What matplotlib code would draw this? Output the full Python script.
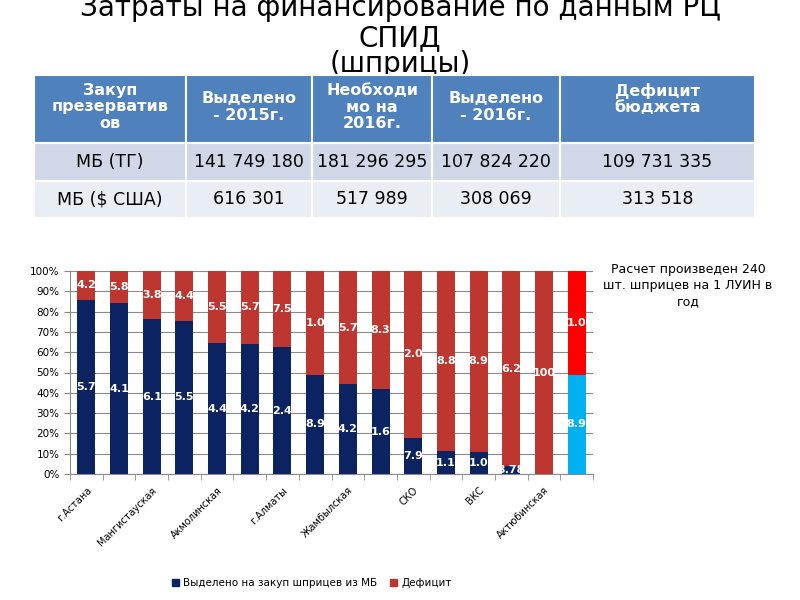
import numpy as np
import matplotlib
matplotlib.use('Agg')
from matplotlib import pyplot as plt
from matplotlib.patches import Rectangle
from matplotlib.ticker import FixedLocator, PercentFormatter

plt.rcParams['font.family'] = ['DejaVu Sans']

# данные таблицы
title_lines = ['Затраты на финансирование по данным РЦ', 'СПИД', '(шприцы)']
header = ['Закуп\nпрезерватив\nов', 'Выделено\n- 2015г.', 'Необходи\nмо на\n2016г.',
          'Выделено\n- 2016г.', 'Дефицит\nбюджета']
row_tg = ['МБ (ТГ)', '141 749 180', '181 296 295', '107 824 220', '109 731 335']
row_usd = ['МБ ($ США)', '616 301', '517 989', '308 069', '313 518']

# данные диаграммы
regions = ['г.Астана', '', 'Мангистауская', '', 'Акмолинская', '', 'г.Алматы', '',
           'Жамбылская', '', 'СКО', '', 'ВКС', '', 'Актюбинская', '']
allocated = [85.7, 84.1, 76.1, 75.5, 64.4, 64.2, 62.4, 48.9, 44.2, 41.6, 17.9, 11.1, 11.0, 3.78, 0, 48.9]
deficit = [14.2, 15.8, 23.8, 24.4, 35.5, 35.7, 37.5, 51.0, 55.7, 58.3, 82.0, 88.8, 88.9, 96.2, 100, 51.0]
# подписи так, как они видны на слайде
alloc_labels = ['5.7', '4.1', '6.1', '5.5', '4.4', '4.2', '2.4', '8.9', '4.2', '1.6', '7.9', '1.1', '1.0', '3.78', '', '8.9']
deficit_labels = ['4.2', '5.8', '3.8', '4.4', '5.5', '5.7', '7.5', '1.0', '5.7', '8.3', '2.0', '8.8', '8.9', '6.2', '100', '1.0']

fig = plt.figure(figsize=(8, 6), dpi=100)

# подложка: заголовок и таблица в пикселях
ov = fig.add_axes([0, 0, 1, 1])
ov.set_xlim(0, 800)
ov.set_ylim(600, 0)
ov.set_axis_off()

for y, line in zip([16, 46, 72], title_lines):
    ov.text(400, y, line, ha='center', va='baseline', fontsize=20, color='#000000', zorder=1)

col_edges = [34, 186, 312, 432, 560, 755]
row_edges = [75, 143, 181, 218]
row_colors = ['#4f81bd', '#d0d8e8', '#e9edf4']
rows = [header, row_tg, row_usd]
for r, cells in enumerate(rows):
    y0, y1 = row_edges[r], row_edges[r + 1]
    for c, txt in enumerate(cells):
        x0, x1 = col_edges[c], col_edges[c + 1]
        ov.add_patch(Rectangle((x0, y0), x1 - x0, y1 - y0, facecolor=row_colors[r],
                               edgecolor='white', linewidth=1.5, zorder=2))
        yc = (y0 + y1) / 2
        if r == 0:
            if c == 4:
                yc = 101
            ov.text((x0 + x1) / 2, yc - 2, txt, ha='center', va='center', fontsize=11.5,
                    fontweight='bold', color='white', linespacing=1.15, zorder=3)
        else:
            ov.text((x0 + x1) / 2, yc, txt, ha='center', va='center', fontsize=12.5,
                    color='black', zorder=3)

# диаграмма
ax = fig.add_axes([70 / 800, 1 - 474 / 600, (593 - 70) / 800, (474 - 271) / 600])
alloc = np.array(allocated)
defi = np.array(deficit)
tot = alloc + defi
a_pct = alloc / tot * 100
d_pct = defi / tot * 100
x = np.arange(len(regions))

blue = ['#0b2461'] * (len(x) - 1) + ['#00b0f0']
red = ['#bd3630'] * (len(x) - 1) + ['#ff0000']
ax.bar(x, a_pct, width=0.55, color=blue, zorder=2)
ax.bar(x, d_pct, bottom=a_pct, width=0.55, color=red, zorder=2)

for i in x:
    if alloc_labels[i]:
        ax.text(i, a_pct[i] / 2, alloc_labels[i], ha='center', va='center', color='white',
                fontsize=8, fontweight='bold', zorder=3)
    if deficit_labels[i]:
        ax.text(i, a_pct[i] + d_pct[i] / 2, deficit_labels[i], ha='center', va='center',
                color='white', fontsize=8, fontweight='bold', zorder=3)

ax.set_xlim(-0.5, len(x) - 0.5)
ax.set_ylim(0, 100)
ax.yaxis.set_major_locator(FixedLocator(np.arange(0, 101, 10)))
ax.yaxis.set_major_formatter(PercentFormatter(decimals=0))
ax.grid(axis='y', color='#8a8a8a', linewidth=0.8, zorder=0)
ax.set_xticks(x)
ax.set_xticklabels(regions, rotation=45, ha='right', rotation_mode='anchor', fontsize=7)
ax.set_xticks(np.arange(-0.5, len(x), 1), minor=True)
ax.tick_params(axis='x', which='major', length=0, pad=8)
ax.tick_params(axis='x', which='minor', length=4, color='#8a8a8a')
ax.tick_params(axis='y', labelsize=7.5, length=4, color='#8a8a8a')
for s in ['top', 'right']:
    ax.spines[s].set_visible(False)
for s in ['left', 'bottom']:
    ax.spines[s].set_color('#8a8a8a')

handles = [Rectangle((0, 0), 1, 1, color='#0b2461'), Rectangle((0, 0), 1, 1, color='#bd3630')]
fig.legend(handles, ['Выделено на закуп шприцев из МБ', 'Дефицит'], loc='center',
           bbox_to_anchor=(312 / 800, 1 - 583 / 600), ncol=2, frameon=False, fontsize=7.5,
           handlelength=0.7, handleheight=0.7, handletextpad=0.4, columnspacing=1.2)

fig.text(688 / 800, 1 - 286 / 600, 'Расчет произведен 240\nшт. шприцев на 1 ЛУИН в\nгод',
         ha='center', va='center', fontsize=9, linespacing=1.3)

fig.savefig('out.png', dpi=100)
